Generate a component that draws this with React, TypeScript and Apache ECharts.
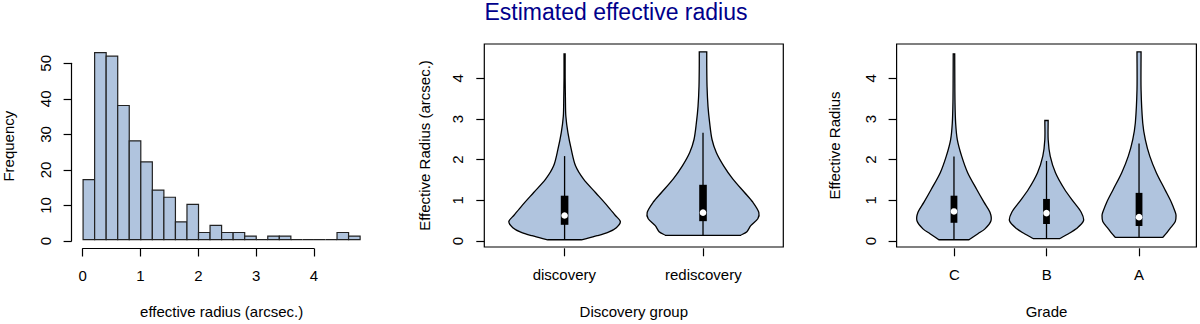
import React, { useEffect, useRef } from "react";
import * as echarts from "echarts";

// ---------- data ----------
const histBreaks = [0, 0.2, 0.4, 0.6, 0.8, 1.0, 1.2, 1.4, 1.6, 1.8, 2.0, 2.2, 2.4, 2.6, 2.8, 3.0, 3.2, 3.4, 3.6, 3.8, 4.0, 4.2, 4.4, 4.6, 4.8];
const histCounts = [17, 53, 52, 38, 28, 22, 14, 12, 5, 10, 2, 4, 2, 2, 1, 0, 1, 1, 0, 0, 0, 0, 2, 1];
const histXTicks = [0, 1, 2, 3, 4];
const histYTicks = [0, 10, 20, 30, 40, 50];

const groupCats = ["discovery", "rediscovery"];
const gradeCats = ["C", "B", "A"];
const radiusTicks = [0, 1, 2, 3, 4];

// violin profiles: y value and half-width (in category units)
const discoveryY = [0.0, 0.1, 0.19, 0.3, 0.45, 0.6, 0.84, 1.17, 1.5, 1.83, 2.24, 2.65, 3.06, 3.5, 4.0, 4.6];
const discoveryW = [0.122, 0.235, 0.317, 0.374, 0.403, 0.367, 0.309, 0.223, 0.137, 0.079, 0.048, 0.024, 0.009, 0.006, 0.004, 0.004];
const rediscoveryY = [0.11, 0.2, 0.35, 0.52, 0.68, 0.93, 1.17, 1.5, 1.83, 2.16, 2.48, 2.89, 3.3, 3.8, 4.3, 4.65];
const rediscoveryW = [0.271, 0.317, 0.345, 0.396, 0.403, 0.36, 0.3, 0.216, 0.149, 0.096, 0.065, 0.048, 0.036, 0.029, 0.027, 0.027];

const gradeCY = [0.0, 0.15, 0.27, 0.47, 0.68, 0.93, 1.25, 1.66, 2.07, 2.48, 2.89, 3.4, 4.0, 4.6];
const gradeCW = [0.162, 0.259, 0.335, 0.4, 0.389, 0.324, 0.245, 0.148, 0.083, 0.036, 0.018, 0.011, 0.009, 0.008];
const gradeBY = [0.03, 0.15, 0.27, 0.47, 0.68, 0.93, 1.25, 1.66, 2.07, 2.48, 2.95];
const gradeBW = [0.144, 0.238, 0.321, 0.4, 0.375, 0.295, 0.195, 0.097, 0.04, 0.018, 0.018];
const gradeAY = [0.06, 0.15, 0.27, 0.45, 0.6, 0.68, 0.93, 1.25, 1.66, 2.07, 2.48, 2.89, 3.71, 4.65];
const gradeAW = [0.256, 0.292, 0.332, 0.392, 0.4, 0.392, 0.349, 0.278, 0.187, 0.116, 0.068, 0.04, 0.022, 0.022];

// box stats: [lower whisker, q1, median, q3, upper whisker]
const boxDiscovery = [0.0, 0.37, 0.6, 1.09, 2.07];
const boxRediscovery = [0.11, 0.46, 0.67, 1.36, 2.65];
const boxC = [0.0, 0.42, 0.7, 1.09, 2.06];
const boxB = [0.03, 0.39, 0.66, 1.01, 1.95];
const boxA = [0.06, 0.34, 0.56, 1.16, 2.38];

// ---------- styles ----------
const FONT = "'Liberation Sans', Arial, Helvetica, sans-serif";
const FILL = "#B0C4DE";
const txt = { color: "#000", fontSize: 15, fontFamily: FONT };
const lineSt = { color: "#000", width: 1.2 };

const hiddenAxis = (gridIndex: number, min: number, max: number, extra: any = {}) => ({
  type: "value",
  gridIndex,
  min,
  max,
  axisLine: { show: false, onZero: false },
  axisTick: { show: false },
  axisLabel: { show: false },
  splitLine: { show: false },
  nameTextStyle: txt,
  ...extra,
});

function violinRender(profiles: { y: number[]; w: number[] }[], boxes: number[][], boxHalf: number) {
  return (params: any, api: any) => {
    const i = params.dataIndex;
    const pos = i + 1;
    const p = profiles[i];
    const right = p.y.map((y, k) => api.coord([pos + p.w[k], y]));
    const left = p.y.map((y, k) => api.coord([pos - p.w[k], y])).reverse();
    // duplicate the corner points so the smoothing keeps flat ends sharp
    const pts = [
      right[0],
      ...right,
      right[right.length - 1],
      left[0],
      ...left,
      left[left.length - 1],
    ];
    const b = boxes[i];
    const lo = api.coord([pos, b[0]]);
    const q1 = api.coord([pos, b[1]]);
    const med = api.coord([pos, b[2]]);
    const q3 = api.coord([pos, b[3]]);
    const hi = api.coord([pos, b[4]]);
    return {
      type: "group",
      children: [
        { type: "polygon", shape: { points: pts, smooth: 0.3 }, style: { fill: FILL, stroke: "#000", lineWidth: 1.3 } },
        { type: "line", shape: { x1: lo[0], y1: lo[1], x2: hi[0], y2: hi[1] }, style: { stroke: "#000", lineWidth: 1.3 } },
        { type: "rect", shape: { x: q3[0] - boxHalf, y: q3[1], width: boxHalf * 2, height: q1[1] - q3[1] }, style: { fill: "#000" } },
        { type: "circle", shape: { cx: med[0], cy: med[1], r: 3.3 }, style: { fill: "#fff" } },
      ],
    };
  };
}

export default function App() {
  const ref = useRef<HTMLDivElement>(null);
  useEffect(() => {
    document.body.style.margin = "0";
    if (!ref.current) return;
    const chart = echarts.init(ref.current, null, { renderer: "svg" });

    const histData = histCounts.map((c, i) => [histBreaks[i], histBreaks[i + 1], c]);

    const PT = 44; // panel top
    const PH = 204.3;

    const option: any = {
      animation: false,
      backgroundColor: "#fff",
      graphic: [
        {
          type: "text",
          x: 616,
          y: 12,
          style: {
            text: "Estimated effective radius",
            fill: "#00008B",
            font: `23px ${FONT}`,
            align: "center",
            verticalAlign: "middle",
          },
        },
      ],
      grid: [
        { left: 71.6, top: 45.3, width: 299.6, height: 203.2 }, // 0 hist plot
        { left: 82.7, top: 45.3, width: 231.2, height: 203.2 }, // 1 hist x ticks
        { left: 71.6, top: 63.3, width: 299.6, height: 177.7 }, // 2 hist y ticks
        { left: 484.3, top: PT, width: 299, height: PH, show: true, borderColor: "#000", borderWidth: 1.2, backgroundColor: "transparent" }, // 3
        { left: 564.3, top: PT, width: 139, height: PH }, // 4
        { left: 484.3, top: 78.3, width: 299, height: 162.7 }, // 5
        { left: 896.6, top: PT, width: 299.8, height: PH, show: true, borderColor: "#000", borderWidth: 1.2, backgroundColor: "transparent" }, // 6
        { left: 954.3, top: PT, width: 184.7, height: PH }, // 7
        { left: 896.6, top: 78.3, width: 299.8, height: 162.7 }, // 8
      ],
      xAxis: [
        hiddenAxis(0, -0.192, 4.992, { name: "effective radius (arcsec.)", nameLocation: "middle", nameGap: 57 }),
        {
          type: "value", gridIndex: 1, min: histXTicks[0], max: histXTicks[histXTicks.length - 1], interval: 1,
          axisLine: { show: true, onZero: false, lineStyle: lineSt },
          axisTick: { show: true, length: 8, lineStyle: lineSt },
          axisLabel: { ...txt, margin: 19 },
          splitLine: { show: false },
        },
        hiddenAxis(2, 0, 1),
        hiddenAxis(3, 0.42, 2.58, { name: "Discovery group", nameLocation: "middle", nameGap: 57 }),
        {
          type: "category", gridIndex: 4, data: groupCats, boundaryGap: false,
          axisLine: { show: false, onZero: false },
          axisTick: { show: true, length: 8, interval: 0, lineStyle: lineSt },
          axisLabel: { ...txt, margin: 19, interval: 0 },
          splitLine: { show: false },
        },
        hiddenAxis(5, 0, 1),
        hiddenAxis(6, 0.38, 3.62, { name: "Grade", nameLocation: "middle", nameGap: 57 }),
        {
          type: "category", gridIndex: 7, data: gradeCats, boundaryGap: false,
          axisLine: { show: false, onZero: false },
          axisTick: { show: true, length: 8, interval: 0, lineStyle: lineSt },
          axisLabel: { ...txt, margin: 19, interval: 0 },
          splitLine: { show: false },
        },
        hiddenAxis(8, 0, 1),
      ],
      yAxis: [
        hiddenAxis(0, -2.11, 55.07, { name: "Frequency", nameLocation: "middle", nameGap: 56 }),
        hiddenAxis(1, 0, 1),
        {
          type: "value", gridIndex: 2, min: histYTicks[0], max: histYTicks[histYTicks.length - 1], interval: 10,
          axisLine: { show: true, onZero: false, lineStyle: lineSt },
          axisTick: { show: true, length: 8, lineStyle: lineSt },
          axisLabel: { ...txt, margin: 19, rotate: 90 },
          splitLine: { show: false },
        },
        hiddenAxis(3, -0.179, 4.843, { name: "Effective Radius (arcsec.)", nameLocation: "middle", nameGap: 52 }),
        hiddenAxis(4, 0, 1),
        {
          type: "value", gridIndex: 5, min: radiusTicks[0], max: radiusTicks[radiusTicks.length - 1], interval: 1,
          axisLine: { show: false, onZero: false },
          axisTick: { show: true, length: 8, lineStyle: lineSt },
          axisLabel: { ...txt, margin: 19, rotate: 90 },
          splitLine: { show: false },
        },
        hiddenAxis(6, -0.179, 4.843, { name: "Effective Radius", nameLocation: "middle", nameGap: 55 }),
        hiddenAxis(7, 0, 1),
        {
          type: "value", gridIndex: 8, min: radiusTicks[0], max: radiusTicks[radiusTicks.length - 1], interval: 1,
          axisLine: { show: false, onZero: false },
          axisTick: { show: true, length: 8, lineStyle: lineSt },
          axisLabel: { ...txt, margin: 19, rotate: 90 },
          splitLine: { show: false },
        },
      ],
      series: [
        {
          type: "custom",
          xAxisIndex: 0,
          yAxisIndex: 0,
          data: histData,
          encode: { x: [0, 1], y: 2 },
          renderItem: (params: any, api: any) => {
            const p0 = api.coord([api.value(0), api.value(2)]);
            const p1 = api.coord([api.value(1), 0]);
            return {
              type: "rect",
              shape: { x: p0[0], y: p0[1], width: p1[0] - p0[0], height: p1[1] - p0[1] },
              style: { fill: FILL, stroke: "#222", lineWidth: 1.2 },
            };
          },
        },
        {
          type: "custom",
          xAxisIndex: 3,
          yAxisIndex: 3,
          data: [[1, boxDiscovery[2]], [2, boxRediscovery[2]]],
          encode: { x: 0, y: 1 },
          renderItem: violinRender(
            [
              { y: discoveryY, w: discoveryW },
              { y: rediscoveryY, w: rediscoveryW },
            ],
            [boxDiscovery, boxRediscovery],
            3.8
          ),
        },
        {
          type: "custom",
          xAxisIndex: 6,
          yAxisIndex: 6,
          data: [[1, boxC[2]], [2, boxB[2]], [3, boxA[2]]],
          encode: { x: 0, y: 1 },
          renderItem: violinRender(
            [
              { y: gradeCY, w: gradeCW },
              { y: gradeBY, w: gradeBW },
              { y: gradeAY, w: gradeAW },
            ],
            [boxC, boxB, boxA],
            3.4
          ),
        },
      ],
    };
    chart.setOption(option);
    return () => chart.dispose();
  }, []);
  return <div ref={ref} style={{ width: 1200, height: 324 }} />;
}
